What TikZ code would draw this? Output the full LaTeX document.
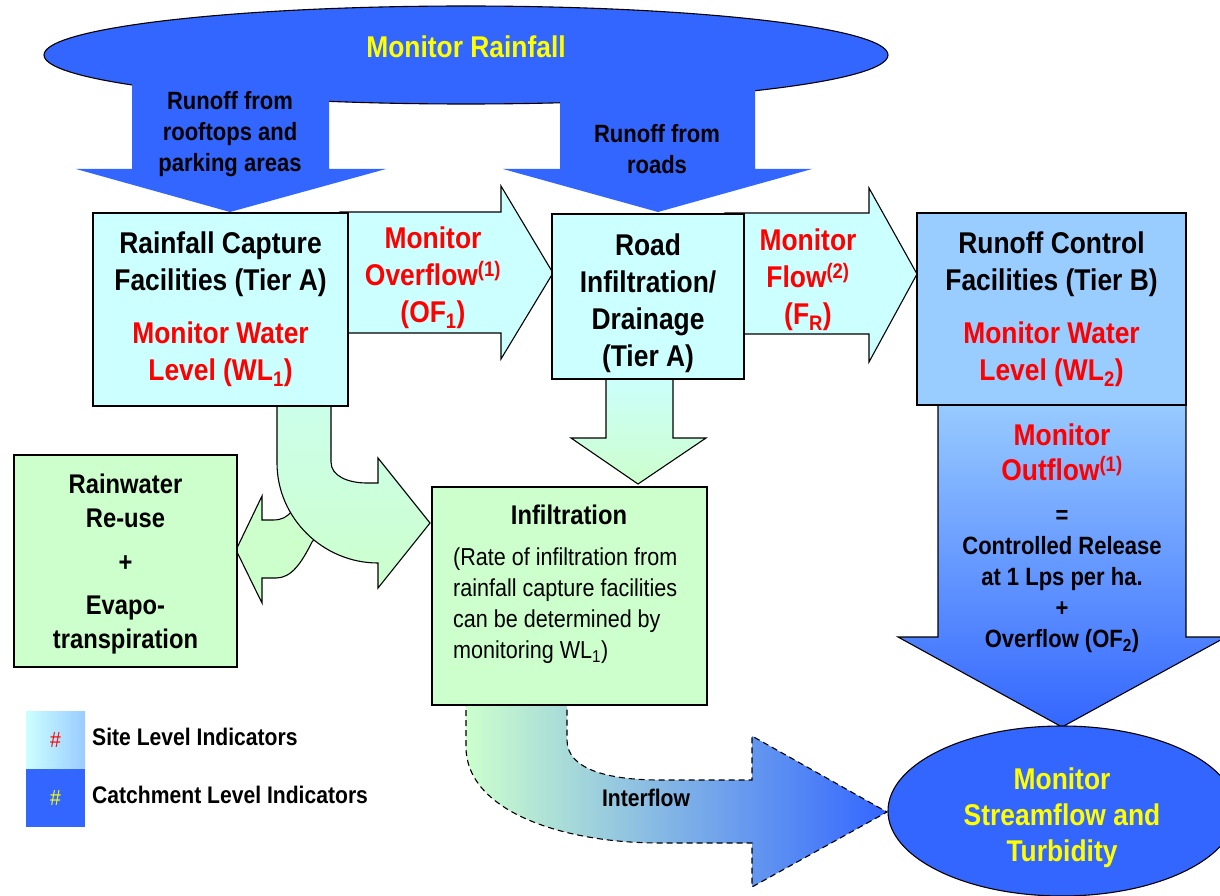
\documentclass[tikz,border=0pt]{standalone}
\usepackage{fontspec}
\setmainfont{Liberation Sans}[FakeStretch=0.88]
\usepackage{xcolor}
\usetikzlibrary{shapes.geometric, positioning, calc}

\definecolor{rainblue}{HTML}{3366FF}
\definecolor{capcyan}{HTML}{CCFFFF}
\definecolor{infgreen}{HTML}{CCFFCC}
\definecolor{ctrlblue}{HTML}{99CCFF}
\definecolor{monred}{HTML}{FF0000}
\definecolor{monyellow}{HTML}{FFFF00}

\newcommand{\mon}[1]{\textcolor{monred}{#1}}

\begin{document}
\begin{tikzpicture}[
    x=1pt, y=-1pt,
    % styles
    box/.style={draw=black, line width=1.1pt, inner sep=0pt, align=center},
    big_text/.style={font=\fontsize{30}{37}\selectfont\bfseries},
    mid_text/.style={font=\fontsize{25}{31}\selectfont\bfseries},
    small_text/.style={font=\fontsize{24}{31}\selectfont\bfseries},
    note_text/.style={font=\fontsize{24.5}{31}\selectfont},
    oval/.style={ellipse, draw=black, line width=1.1pt, fill=rainblue, inner sep=0pt},
    block_arrow/.style={draw=black, line width=1.1pt, line join=miter},
    dashed_arrow/.style={draw=black, line width=1.1pt, dash pattern=on 6pt off 4pt}
]

    \useasboundingbox (0,0) rectangle (1220,896);

    % --- 1. MONITOR RAINFALL (Top) ---
    \node[oval, minimum width=844pt, minimum height=98pt] (rain) at (466,55) {};
    \fill[rainblue] (132,60) -- (132,169) -- (76,169) -- (230,212) -- (386,169) -- (329,169) -- (329,60) -- cycle;
    \fill[rainblue] (560,60) -- (560,169) -- (503,169) -- (658,212) -- (812,169) -- (755,169) -- (755,60) -- cycle;
    \node[big_text, text=monyellow] (rain_label) at (466,47) {Monitor Rainfall};
    \node[mid_text, align=center] (roof_runoff) at (230,134) {Runoff from\\rooftops and\\parking areas};
    \node[mid_text, align=center] (road_runoff) at (657,149) {Runoff from\\roads};

    % --- 2. FLOW ARROWS (behind boxes) ---
    % overflow and flow
    \draw[block_arrow, fill=capcyan] (340,212) -- (501,212) -- (501,186) -- (553,273) -- (501,359) -- (501,333) -- (340,333) -- cycle;
    \draw[block_arrow, fill=capcyan] (725,213) -- (869,213) -- (869,188) -- (917,274) -- (869,362) -- (869,334) -- (725,334) -- cycle;
    % road to infiltration
    \draw[block_arrow, top color=capcyan, bottom color=infgreen] (606,370) -- (606,438) -- (571,438) -- (638,484) -- (706,438) -- (673,438) -- (673,370) -- cycle;
    % branch to rainwater re-use
    \draw[block_arrow, fill=infgreen] (236,550) -- (262,496) -- (262,520) -- (273,520)
        .. controls (282,520) and (287,517) .. (292,511) -- (300,500) -- (330,520) -- (312,542)
        .. controls (301,564) and (291,578) .. (276,578) -- (262,578) -- (262,603) -- cycle;
    % capture to infiltration
    \draw[block_arrow, top color=capcyan!60!infgreen, bottom color=infgreen] (277,400) -- (277,463)
        .. controls (277,518) and (323,563) .. (378,563) -- (378,588) -- (430,523) -- (378,458) -- (378,483) -- (367,483)
        .. controls (348,483) and (331,476) .. (331,462) -- (331,400) -- cycle;
    % outflow of tier B
    \draw[block_arrow, top color=ctrlblue, bottom color=rainblue] (938,400) -- (938,637) -- (898,637) -- (1062,727) -- (1226,637) -- (1186,637) -- (1186,400) -- cycle;
    % interflow
    \draw[dashed_arrow, left color=infgreen, right color=rainblue] (466,700) -- (466,747)
        .. controls (466,810) and (560,843) .. (660,843) -- (752,843) -- (752,887) -- (887,812) -- (752,736) -- (752,780) -- (660,780)
        .. controls (610,780) and (567,770) .. (567,740) -- (567,700) -- cycle;
    \node[small_text] (interflow_label) at (646,798) {Interflow};

    % --- 3. FACILITY BOXES ---
    \node[box, big_text, fill=capcyan, minimum width=255pt, minimum height=193pt] (cap) at (220.5,309.5)
        {Rainfall Capture\\Facilities (Tier A)\\[16pt]\mon{Monitor Water}\\\mon{Level (WL\textsubscript{1})}};
    \node[big_text, text=monred, align=center] (of_label) at (433,278)
        {Monitor\\Overflow\textsuperscript{(1)}\\(OF\textsubscript{1})};

    \node[box, fill=capcyan, minimum width=192pt, minimum height=165pt] (road) at (648,296.5) {};
    \node[big_text, align=center] (road_label) at (648,303) {Road\\Infiltration/\\Drainage\\(Tier A)};
    \node[big_text, text=monred, align=center] (fr_label) at (808,280)
        {Monitor\\Flow\textsuperscript{(2)}\\(F\textsubscript{R})};

    \node[box, big_text, fill=ctrlblue, minimum width=269pt, minimum height=192pt] (ctrl) at (1051.5,309)
        {Runoff Control\\Facilities (Tier B)\\[16pt]\mon{Monitor Water}\\\mon{Level (WL\textsubscript{2})}};
    \node[big_text, text=monred, align=center, font=\fontsize{30}{35}\selectfont\bfseries] (outflow_label) at (1062,452)
        {Monitor\\Outflow\textsuperscript{(1)}};
    \node[align=center, font=\fontsize{25}{31}\selectfont\bfseries] (release_label) at (1062,582)
        {=\\Controlled Release\\at 1 Lps per ha.\\+\\Overflow (OF\textsubscript{2})};

    % --- 4. RE-USE AND INFILTRATION ---
    \node[box, fill=infgreen, minimum width=223pt, minimum height=212pt] (reuse) at (125.5,561) {};
    \node[align=center, font=\fontsize{27}{34}\selectfont\bfseries] (reuse_label) at (125.5,564)
        {Rainwater\\Re-use\\[10pt]+\\[9pt]Evapo-\\transpiration};

    \node[box, fill=infgreen, minimum width=275pt, minimum height=218pt] (infil) at (569.5,596) {};
    \node[font=\fontsize{27}{33}\selectfont\bfseries] (infil_title) at (569,515) {Infiltration};
    \node[note_text, align=left, anchor=north west, inner sep=0pt] (infil_note) at (453,548)
        {(Rate of infiltration from\\rainfall capture facilities\\can be determined by\\monitoring WL\textsubscript{1})};

    % --- 5. STREAMFLOW (Bottom right) ---
    \node[oval, minimum width=348pt, minimum height=170pt] (stream) at (1062,811) {};
    \node[text=monyellow, align=center, font=\fontsize{30}{36}\selectfont\bfseries] (stream_label) at (1062,818)
        {Monitor\\Streamflow and\\Turbidity};

    % --- 6. LEGEND ---
    \node[minimum width=59pt, minimum height=58pt, inner sep=0pt, left color=capcyan, right color=ctrlblue,
        text=monred, font=\fontsize{22}{22}\selectfont] (site_key) at (55.5,740) {\#};
    \node[minimum width=59pt, minimum height=58pt, inner sep=0pt, fill=rainblue,
        text=monyellow, font=\fontsize{22}{22}\selectfont] (catch_key) at (55.5,798) {\#};
    \node[small_text, anchor=west, inner sep=0pt] (site_label) at (92,737) {Site Level Indicators};
    \node[small_text, anchor=west, inner sep=0pt] (catch_label) at (92,795) {Catchment Level Indicators};

\end{tikzpicture}
\end{document}
